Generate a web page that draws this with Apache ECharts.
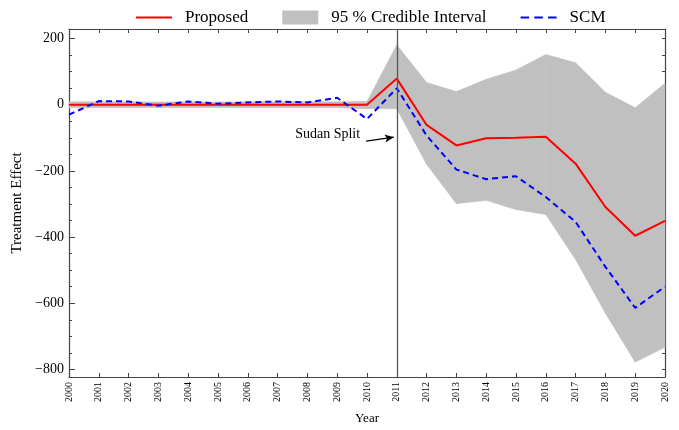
<!DOCTYPE html>
<html><head><meta charset="utf-8">
<script src="https://cdn.jsdelivr.net/npm/echarts@6/dist/echarts.min.js"></script>
<style>html,body{margin:0;padding:0;background:#fff}#c{width:679px;height:430px}</style>
</head><body><div id="c"></div>
<script>
var years = [2000,2001,2002,2003,2004,2005,2006,2007,2008,2009,2010,2011,2012,2013,2014,2015,2016,2017,2018,2019,2020];
var proposed = [0,0,0,0,0,0,0,0,0,0,0,79,-61,-123,-101,-100,-97,-178,-309,-396,-351];
var scm = [-30,11,10,-3,10,3,7,10,7,21,-43,50,-93,-196,-225,-216,-279,-354,-490,-614,-550];
var ciUpper = [9,9,9,8,9,8,9,9,9,9,10,181,67,40,77,105,152,127,38,-9,65];
var ciLower = [-9,-9,-9,-8,-9,-8,-9,-9,-9,-9,-12,-12,-180,-299,-289,-317,-332,-468,-630,-778,-733];
var yTickLabels = [-800,-600,-400,-200,0,200];
var yMinorTicks = [-800,-750,-700,-650,-600,-550,-500,-450,-400,-350,-300,-250,-200,-150,-100,-50,0,50,100,150,200];
var splitYear = 2011;

function pairs(v){ return years.map(function(y,i){ return [y, v[i]]; }); }
var serif = 'Liberation Serif';
var chart = echarts.init(document.getElementById('c'));
var yBase = {type:'value', min:-823, max:229, splitLine:{show:false}};

// band segments: each item joins year i and year i+1
var bandData = [];
for (var i = 0; i < years.length - 1; i++) {
  bandData.push([years[i], ciLower[i], ciUpper[i], years[i+1], ciLower[i+1], ciUpper[i+1]]);
}

chart.setOption({
  animation:false,
  textStyle:{fontFamily:serif},
  legend:{
    left:131, top:4, itemGap:34, itemWidth:36, itemHeight:14,
    textStyle:{fontFamily:serif, fontSize:17, color:'#000', padding:[0,0,0,8]},
    data:[
      {name:'Proposed', icon:'path://M0,6L36,6L36,8L0,8Z', itemStyle:{color:'#ff0000'}},
      {name:'95 % Credible Interval', icon:'rect', itemStyle:{color:'#c0c0c0'}},
      {name:'SCM', icon:'path://M0,6L8,6L8,8L0,8ZM13,6L21,6L21,8L13,8ZM26,6L34,6L34,8L26,8Z', itemStyle:{color:'#0000ff'}}
    ]
  },
  grid:{left:69, right:14, top:29, bottom:47},
  xAxis:[
    {type:'value', min:2000, max:2020, interval:1, name:'Year', nameLocation:'middle', nameGap:35,
     nameTextStyle:{fontFamily:serif, fontSize:13, color:'#000'},
     axisLine:{onZero:false, lineStyle:{color:'#444', width:1.2}}, axisTick:{inside:true, length:4, lineStyle:{color:'#444'}},
     axisLabel:{rotate:90, fontSize:10, color:'#000', fontFamily:serif, margin:5, formatter:function(v){return String(v);}},
     splitLine:{show:false}},
    {type:'value', position:'top', min:2000, max:2020, interval:1,
     axisLine:{onZero:false, lineStyle:{color:'#444', width:1.2}}, axisTick:{inside:true, length:4, lineStyle:{color:'#444'}},
     axisLabel:{show:false}, splitLine:{show:false}}
  ],
  yAxis:[
    Object.assign({}, yBase, {position:'left', name:'Treatment Effect', nameLocation:'middle', nameGap:36,
     nameTextStyle:{fontFamily:serif, fontSize:15, color:'#000'},
     axisLine:{show:true, onZero:false, lineStyle:{color:'#444', width:1.2}},
     axisTick:{show:true, inside:true, length:3, customValues:yMinorTicks, lineStyle:{color:'#444'}},
     axisLabel:{show:true, customValues:yTickLabels, fontSize:14, color:'#000', fontFamily:serif, margin:5,
       formatter:function(v){return String(v).replace('-', '\u2212');}}}),
    Object.assign({}, yBase, {position:'right',
     axisLine:{show:true, onZero:false, lineStyle:{color:'#444', width:1.2}},
     axisTick:{show:true, inside:true, length:3, customValues:yMinorTicks, lineStyle:{color:'#444'}},
     axisLabel:{show:false}}),
    Object.assign({}, yBase, {position:'left',
     axisLine:{show:false, onZero:false},
     axisTick:{show:true, inside:true, length:6, customValues:yTickLabels, lineStyle:{color:'#444'}},
     axisLabel:{show:false}})
  ],
  series:[
    {name:'95 % Credible Interval', type:'custom', data:bandData, z:1, silent:true,
     itemStyle:{color:'#c0c0c0'},
     encode:{x:[0,3], y:[1,2,4,5]},
     renderItem:function(params, api){
       var a = api.coord([api.value(0), api.value(1)]);
       var b = api.coord([api.value(0), api.value(2)]);
       var c = api.coord([api.value(3), api.value(5)]);
       var d = api.coord([api.value(3), api.value(4)]);
       return {type:'polygon', shape:{points:[a,b,c,d]},
               style:{fill:'#c0c0c0', stroke:'#c0c0c0', lineWidth:0.6}};
     },
     markLine:{silent:true, symbol:'none', label:{show:false}, lineStyle:{color:'#555', width:1.3, type:'solid'},
       data:[{xAxis:splitYear}]}},
    {name:'Proposed', type:'line', data:pairs(proposed), symbol:'none',
     lineStyle:{color:'#ff0000', width:2}, itemStyle:{color:'#ff0000'}, z:3},
    {name:'SCM', type:'line', data:pairs(scm), symbol:'none',
     lineStyle:{color:'#0000ff', width:2, type:[6,4]}, itemStyle:{color:'#0000ff'}, z:4,
     markLine:{silent:true, symbol:['none','arrow'], symbolSize:[6,9], label:{show:false},
       lineStyle:{color:'#000', width:1.2, type:'solid'},
       data:[[{coord:[2009.97,-110]},{coord:[2010.9,-98]}]]}}
  ]
});
var p = chart.convertToPixel({xAxisIndex:0, yAxisIndex:0}, [2009.77,-88]);
chart.setOption({graphic:[{type:'text', x:p[0], y:p[1], style:{text:'Sudan Split', fontFamily:serif, fontSize:14, fill:'#000', align:'right', verticalAlign:'middle'}}]});
</script></body></html>
